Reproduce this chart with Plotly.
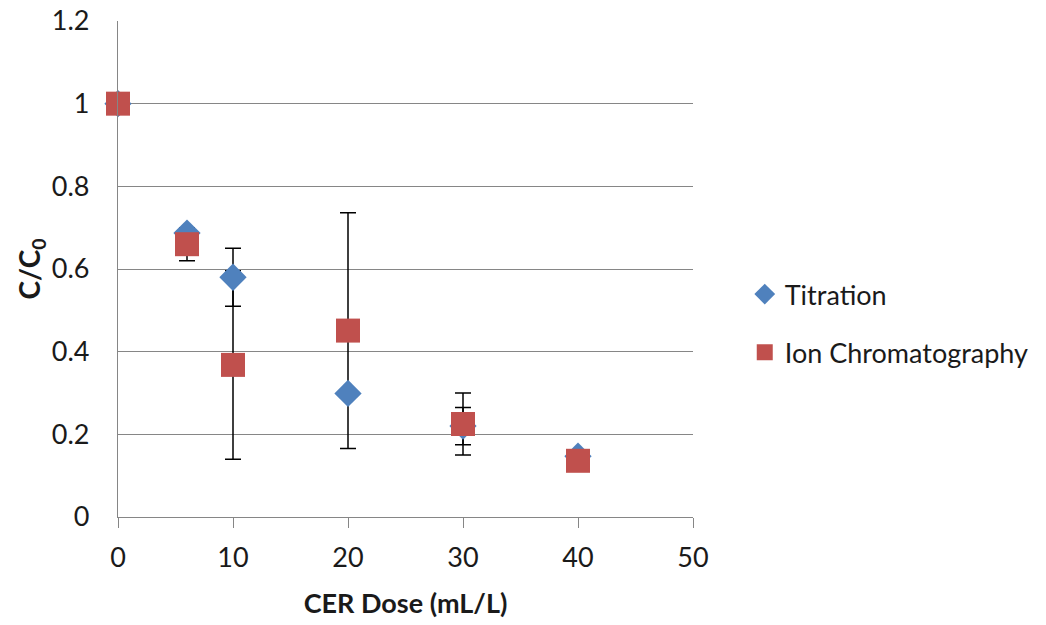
import plotly.graph_objects as go

dose = [0, 6, 10, 20, 30, 40]
titration = [1.0, 0.687, 0.58, 0.299, 0.22, 0.147]
titration_err = [0, 0, 0.07, 0, 0.045, 0]
ion_chrom = [1.0, 0.66, 0.368, 0.451, 0.225, 0.136]
ion_chrom_err = [0, 0.04, 0.228, 0.285, 0.075, 0]

font_family = "Lato, 'Open Sans', sans-serif"

fig = go.Figure()

# error bars drawn first (below markers)
for vals, errs in [(titration, titration_err), (ion_chrom, ion_chrom_err)]:
    fig.add_trace(go.Scatter(
        x=dose, y=vals, mode="markers",
        marker=dict(size=1, opacity=0),
        error_y=dict(type="data", array=errs, visible=True, color="black",
                     thickness=1.5, width=8),
        showlegend=False, hoverinfo="skip", cliponaxis=False))

fig.add_trace(go.Scatter(
    x=dose, y=titration, mode="markers", name="Titration",
    marker=dict(symbol="diamond", size=21, color="#4F81BD"),
    legendgroup="a", cliponaxis=False))
fig.add_trace(go.Scatter(
    x=dose, y=ion_chrom, mode="markers", name="Ion Chromatography",
    marker=dict(symbol="square", size=24, color="#C0504D"),
    legendgroup="b", cliponaxis=False))

fig.update_layout(
    width=1046, height=625,
    margin=dict(l=118, r=347, t=21, b=108),
    paper_bgcolor="white", plot_bgcolor="white",
    font=dict(family=font_family, size=27, color="#1a1a1a"),
    legend=dict(x=1.09, y=0.39, xanchor="left", yanchor="middle",
                font=dict(size=27, color="#1a1a1a"), tracegroupgap=20,
                itemsizing="trace"),
    xaxis=dict(range=[0, 50], tickvals=[0, 10, 20, 30, 40, 50],
               showgrid=False, zeroline=False, showline=True,
               linecolor="#868686", linewidth=1.2,
               ticks="outside", ticklen=10, tickcolor="#868686",
               tickfont=dict(size=27), ticklabelstandoff=6, automargin=False,
               title=dict(text="<b>CER Dose (mL/L)</b>", font=dict(size=27), standoff=22)),
    yaxis=dict(range=[0, 1.2], tickvals=[0, 0.2, 0.4, 0.6, 0.8, 1.0, 1.2],
               ticktext=["0", "0.2", "0.4", "0.6", "0.8", "1", "1.2"],
               showgrid=True, gridcolor="#868686", gridwidth=1.2,
               zeroline=False, showline=True,
               linecolor="#868686", linewidth=1.2,
               ticks="", tickfont=dict(size=27), ticklabelstandoff=22,
               automargin=False,
               title=dict(text="<b>C/C<sub>0</sub></b>", font=dict(size=28), standoff=2)),
)

fig.write_html("out.html")
